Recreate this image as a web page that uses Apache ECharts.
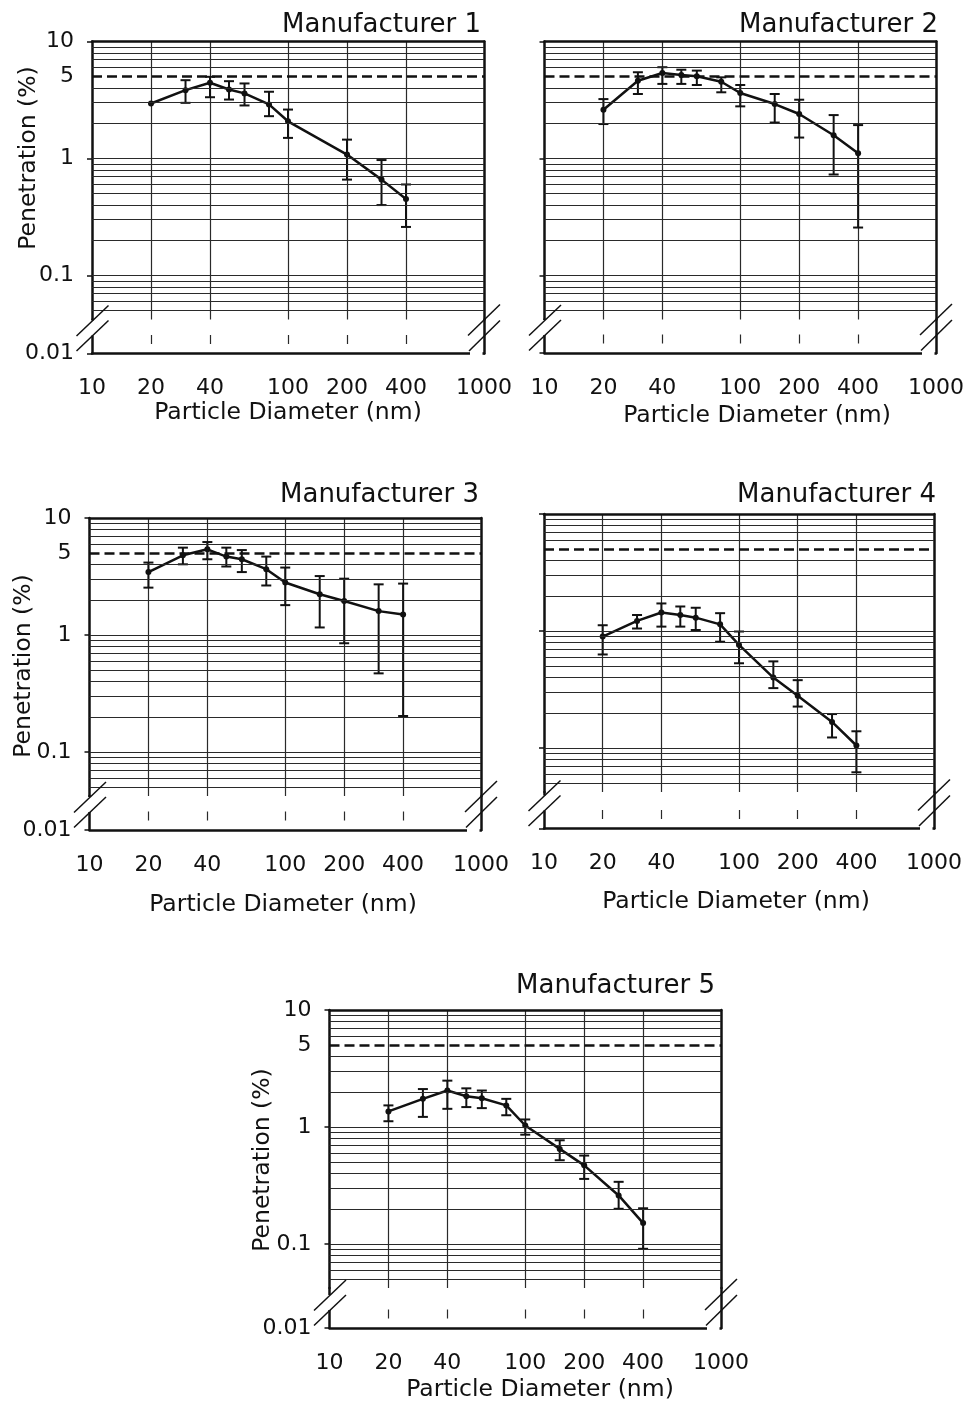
<!DOCTYPE html>
<html>
<head>
<meta charset="utf-8">
<title>Penetration vs Particle Diameter</title>
<script src="https://cdn.jsdelivr.net/npm/echarts@6/dist/echarts.min.js"></script>
<style>
    html, body { margin: 0; padding: 0; background: #fff; }
    #main { width: 969px; height: 1407px; }
</style>
</head>
<body>
<div id="main"></div>
<script>
// particle diameters (nm)
const diameters = [20, 30, 40, 50, 60, 80, 100, 150, 200, 300, 400];
const diameters1 = [20, 30, 40, 50, 60, 80, 100, 200, 300, 400];

// penetration (%), with lower / upper error bar ends
const pen1 = [2.95, 3.84, 4.44, 3.89, 3.60, 2.90, 2.08, 1.08, 0.66, 0.45];
const lo1  = [null, 2.99, 3.34, 3.19, 2.84, 2.30, 1.50, 0.66, 0.40, 0.26];
const hi1  = [null, 4.67, 4.99, 4.58, 4.38, 3.72, 2.62, 1.45, 0.97, 0.60];

const pen2 = [2.61, 4.62, 5.38, 5.18, 5.05, 4.53, 3.63, 2.92, 2.40, 1.58, 1.11];
const lo2  = [1.97, 3.56, 4.34, 4.34, 4.25, 3.68, 2.79, 2.03, 1.51, 0.73, 0.257];
const hi2  = [3.22, 5.46, 6.03, 5.74, 5.64, 4.94, 4.25, 3.56, 3.18, 2.35, 1.93];

const pen3 = [3.45, 4.80, 5.40, 4.68, 4.44, 3.65, 2.81, 2.23, 1.95, 1.60, 1.50];
const lo3  = [2.54, 4.02, 4.44, 3.85, 3.45, 2.65, 1.80, 1.16, 0.85, 0.47, 0.203];
const hi3  = [4.16, 5.58, 6.23, 5.58, 5.32, 4.68, 3.77, 3.19, 3.03, 2.71, 2.75];

const pen4 = [0.896, 1.22, 1.44, 1.37, 1.30, 1.14, 0.76, 0.40, 0.28, 0.167, 0.105];
const lo4  = [0.63, 1.05, 1.09, 1.09, 1.02, 0.81, 0.53, 0.325, 0.226, 0.123, 0.062];
const hi4  = [1.12, 1.37, 1.72, 1.62, 1.58, 1.42, 0.99, 0.55, 0.38, 0.195, 0.139];

const pen5 = [1.36, 1.74, 2.05, 1.83, 1.76, 1.53, 1.03, 0.65, 0.47, 0.26, 0.151];
const lo5  = [1.12, 1.22, 1.43, 1.48, 1.45, 1.26, 0.86, 0.52, 0.36, 0.20, 0.091];
const hi5  = [1.53, 2.11, 2.49, 2.14, 2.05, 1.74, 1.16, 0.77, 0.57, 0.34, 0.202];

const titles = ['Manufacturer 1', 'Manufacturer 2', 'Manufacturer 3', 'Manufacturer 4', 'Manufacturer 5'];
const xName = 'Particle Diameter (nm)';
const yName = 'Penetration (%)';

// axis ticks, labels and grid lines
const xTickLabels = [10, 20, 40, 100, 200, 400, 1000];
const xGridValues = [20, 40, 100, 200, 400];
const yTickLabels = [0.1, 1, 5, 10];
const yTickMarks = [0.1, 1, 10];
const yBreakLabel = [0.01];
const hGridValues = [0.05, 0.06, 0.07, 0.08, 0.09, 0.1, 0.2, 0.3, 0.4, 0.5, 0.6, 0.7, 0.8, 0.9,
    1, 2, 3, 4, 6, 7, 8, 9];
const limitValue = 5;
const yMinUpper = 0.042;

const seriesData = [
    { x: diameters1, y: pen1, lo: lo1, hi: hi1 },
    { x: diameters, y: pen2, lo: lo2, hi: hi2 },
    { x: diameters, y: pen3, lo: lo3, hi: hi3 },
    { x: diameters, y: pen4, lo: lo4, hi: hi4 },
    { x: diameters, y: pen5, lo: lo5, hi: hi5 }
];

// panel layout in pixels
const panels = [
    { L: 92,    R: 484, top: 41.5, B: 353.5, titleX: 481, titleY: 25.5, yNameX: 29,  yNameY: 158,  xNameX: 288, xNameY: 413, showY: true },
    { L: 544.5, R: 936, top: 41.5, B: 353,   titleX: 938, titleY: 25.5, xNameX: 757, xNameY: 416, showY: false },
    { L: 89.5,  R: 481, top: 518,  B: 830,   titleX: 479, titleY: 495.5, yNameX: 24, yNameY: 666, xNameX: 283, xNameY: 905, showY: true },
    { L: 544,   R: 934, top: 514,  B: 828.5, titleX: 936, titleY: 495.5, xNameX: 736, xNameY: 902, showY: false },
    { L: 329.5, R: 721, top: 1010, B: 1328,  titleX: 715, titleY: 986.5, yNameX: 263, yNameY: 1160, xNameX: 540, xNameY: 1390, showY: true }
];

const FONT = '"DejaVu Sans", sans-serif';
const INK = '#111';
const GRID = '#2a2a2a';
const DECADE = 117; // px per decade on the y axis

function fmt(v) {
    return String(Number(Number(v).toPrecision(6)));
}

function renderErrorBar(params, api) {
    const x = api.value(0);
    const lo = api.coord([x, api.value(1)]);
    const hi = api.coord([x, api.value(2)]);
    const w = 5;
    const style = { stroke: INK, lineWidth: 2 };
    return {
        type: 'group',
        children: [
            { type: 'line', shape: { x1: lo[0], y1: lo[1], x2: hi[0], y2: hi[1] }, style },
            { type: 'line', shape: { x1: lo[0] - w, y1: lo[1], x2: lo[0] + w, y2: lo[1] }, style },
            { type: 'line', shape: { x1: hi[0] - w, y1: hi[1], x2: hi[0] + w, y2: hi[1] }, style }
        ]
    };
}

const grids = [];
const xAxes = [];
const yAxes = [];
const series = [];
const graphics = [];

const frameLine = { show: true, onZero: false, lineStyle: { color: INK, width: 2.5 } };
const logX = { type: 'log', logBase: 10, min: 10, max: 1000 };

panels.forEach((p, i) => {
    const upperH = DECADE * (1 - Math.log10(yMinUpper));
    const lowerTop = p.top + upperH;
    const gU = grids.length;
    grids.push({ left: p.L, top: p.top, width: p.R - p.L, height: upperH, outerBoundsMode: 'none' });
    grids.push({ left: p.L, top: lowerTop, width: p.R - p.L, height: p.B - lowerTop, outerBoundsMode: 'none' });
    const gL = gU + 1;

    // upper grid: vertical grid lines + top frame
    const xU = xAxes.length;
    xAxes.push(Object.assign({}, logX, {
        gridIndex: gU, position: 'bottom',
        axisLine: { show: false },
        axisTick: { show: false, customValues: xGridValues },
        axisLabel: { show: false },
        splitLine: { show: true, lineStyle: { color: GRID, width: 1.2 } }
    }));
    xAxes.push(Object.assign({}, logX, {
        gridIndex: gU, position: 'top',
        axisLine: frameLine, axisTick: { show: false }, axisLabel: { show: false }, splitLine: { show: false }
    }));
    // lower grid: the real x axis with labels, broken grid stubs
    const stubStart = (p.B - 18.5) - lowerTop;
    xAxes.push(Object.assign({}, logX, {
        gridIndex: gL, position: 'bottom',
        axisLine: frameLine,
        axisTick: { show: false, customValues: xGridValues },
        axisLabel: {
            customValues: xTickLabels, formatter: fmt, margin: 24,
            fontSize: 22, fontFamily: FONT, color: INK
        },
        splitLine: { show: true, lineStyle: { color: GRID, width: 1.2, type: [0, stubStart, 9, 300] } }
    }));

    const yU = yAxes.length;
    yAxes.push({
        type: 'log', logBase: 10, min: yMinUpper, max: 10, gridIndex: gU, position: 'left',
        axisLine: frameLine,
        axisTick: { show: true, length: 5, customValues: yTickMarks, lineStyle: { color: INK, width: 1.5 } },
        axisLabel: {
            show: p.showY, customValues: yTickLabels, formatter: fmt, margin: 18,
            fontSize: 22, fontFamily: FONT, color: INK
        },
        splitLine: { show: false }
    });
    yAxes.push({
        type: 'log', logBase: 10, min: yMinUpper, max: 10, gridIndex: gU, position: 'right',
        axisLine: frameLine, axisTick: { show: false }, axisLabel: { show: false }, splitLine: { show: false }
    });
    yAxes.push({
        type: 'log', logBase: 10, min: 0.01, max: yMinUpper, gridIndex: gL, position: 'left',
        axisLine: frameLine,
        axisTick: { show: true, length: 5, customValues: yBreakLabel, lineStyle: { color: INK, width: 1.5 } },
        axisLabel: {
            show: p.showY, customValues: yBreakLabel, formatter: fmt, margin: 18,
            fontSize: 22, fontFamily: FONT, color: INK
        },
        splitLine: { show: false }
    });
    yAxes.push({
        type: 'log', logBase: 10, min: 0.01, max: yMinUpper, gridIndex: gL, position: 'right',
        axisLine: frameLine, axisTick: { show: false }, axisLabel: { show: false }, splitLine: { show: false }
    });

    // horizontal grid lines and the 5 % dashed limit
    series.push({
        type: 'line', xAxisIndex: xU, yAxisIndex: yU, data: [], silent: true, z: 1,
        markLine: {
            silent: true, symbol: ['none', 'none'], label: { show: false },
            lineStyle: { color: GRID, width: 1.2, type: 'solid' },
            data: hGridValues.map(v => ({ yAxis: v })).concat([
                { yAxis: limitValue, lineStyle: { color: INK, width: 2.5, type: [10, 5] } }
            ])
        }
    });

    const d = seriesData[i];
    const bars = [];
    d.x.forEach((x, k) => {
        if (d.lo[k] != null) bars.push([x, d.lo[k], d.hi[k]]);
    });
    series.push({
        type: 'custom', xAxisIndex: xU, yAxisIndex: yU, z: 3,
        renderItem: renderErrorBar,
        encode: { x: 0, y: [1, 2] },
        data: bars
    });
    series.push({
        type: 'line', xAxisIndex: xU, yAxisIndex: yU, z: 4,
        data: d.x.map((x, k) => [x, d.y[k]]),
        symbol: 'circle', symbolSize: 6,
        itemStyle: { color: INK },
        lineStyle: { color: INK, width: 2.5 }
    });

    // texts
    graphics.push({
        type: 'text', x: p.titleX, y: p.titleY, z: 100,
        style: { text: titles[i], fontSize: 26, fontFamily: FONT, fill: INK, align: 'right', verticalAlign: 'middle' }
    });
    graphics.push({
        type: 'text', x: p.xNameX, y: p.xNameY, z: 100,
        style: { text: xName, fontSize: 23.5, fontFamily: FONT, fill: INK, align: 'center', verticalAlign: 'middle' }
    });
    if (p.showY) {
        graphics.push({
            type: 'text', x: p.yNameX, y: p.yNameY, rotation: Math.PI / 2, z: 100,
            style: { text: yName, fontSize: 23.5, fontFamily: FONT, fill: INK, align: 'center', verticalAlign: 'middle' }
        });
    }

    // axis break marks
    const L = p.L, R = p.R, B = p.B;
    const slash = { stroke: INK, lineWidth: 1.5 };
    graphics.push({ type: 'rect', z: 100, shape: { x: L - 2, y: B - 33, width: 4, height: 15 }, style: { fill: '#fff' } });
    graphics.push({ type: 'rect', z: 100, shape: { x: R - 14, y: B - 2, width: 12.5, height: 4 }, style: { fill: '#fff' } });
    graphics.push({ type: 'line', z: 101, shape: { x1: L - 15.5, y1: B - 17.5, x2: L + 16.5, y2: B - 48 }, style: slash });
    graphics.push({ type: 'line', z: 101, shape: { x1: L - 15.5, y1: B - 2.5, x2: L + 16.5, y2: B - 33 }, style: slash });
    graphics.push({ type: 'line', z: 101, shape: { x1: R - 16, y1: B - 18, x2: R + 16, y2: B - 49 }, style: slash });
    graphics.push({ type: 'line', z: 101, shape: { x1: R - 15, y1: B - 2.5, x2: R + 16, y2: B - 33 }, style: slash });
});

const chart = echarts.init(document.getElementById('main'), null, { renderer: 'canvas' });
chart.setOption({
    animation: false,
    backgroundColor: '#fff',
    grid: grids,
    xAxis: xAxes,
    yAxis: yAxes,
    series: series,
    graphic: { elements: graphics }
});
</script>
</body>
</html>
